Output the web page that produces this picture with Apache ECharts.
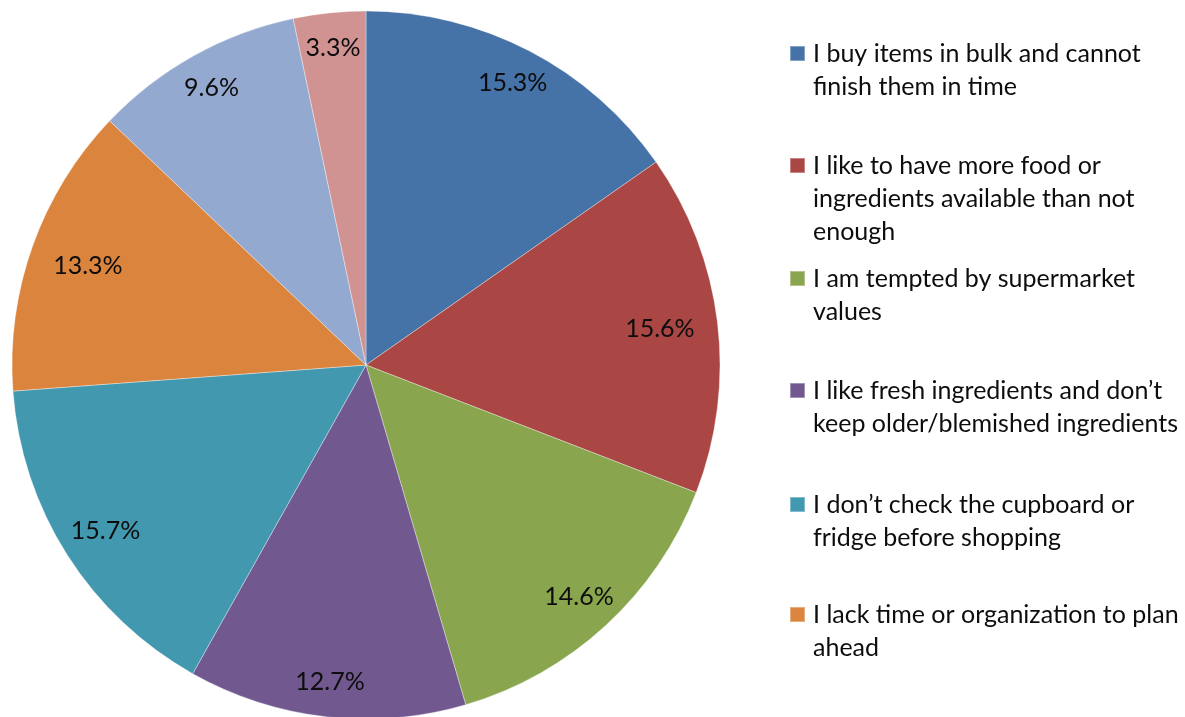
<!DOCTYPE html>
<html>
<head>
<meta charset="utf-8">
<script src="https://cdn.jsdelivr.net/npm/echarts@6/dist/echarts.min.js"></script>
<style>
  html, body { margin: 0; padding: 0; background: #fff; }
  #chart { width: 1185px; height: 717px; }
</style>
</head>
<body>
<div id="chart"></div>
<script>
// Reasons for food waste, share of responses (%)
const categories = [
  "I buy items in bulk and cannot finish them in time",
  "I like to have more food or ingredients available than not enough",
  "I am tempted by supermarket values",
  "I like fresh ingredients and don’t keep older/blemished ingredients",
  "I don’t check the cupboard or fridge before shopping",
  "I lack time or organization to plan ahead",
  "Other",
  "Not sure"
];
const shares = [15.3, 15.6, 14.6, 12.7, 15.7, 13.3, 9.6, 3.3];
const colors = ["#4572A7", "#AA4643", "#89A54E", "#71588F", "#4198AF", "#DB843D", "#93A9CF", "#D19392"];

// Legend text, wrapped line by line
const legendLines = [
  ["I buy items in bulk and cannot", "finish them in time"],
  ["I like to have more food or", "ingredients available than not", "enough"],
  ["I am tempted by supermarket", "values"],
  ["I like fresh ingredients and don’t", "keep older/blemished ingredients"],
  ["I don’t check the cupboard or", "fridge before shopping"],
  ["I lack time or organization to plan", "ahead"]
];
const legendIconTops = [46, 158, 271, 383, 497, 607];

const FONT = "Lato";
const LINE_H = 33;
const ICON = 15;
const CX = 366, CY = 365, R = 354;
const LABEL_REACH = 331; // how far from the centre a label box may extend along its slice's mid-line

const total = shares.reduce((a, b) => a + b, 0);
const midAngles = [];
shares.reduce((cum, v) => { midAngles.push(2 * Math.PI * (cum + v / 2) / total); return cum + v; }, 0);

const pieData = categories.map((name, i) => ({
  name: name,
  value: shares[i],
  itemStyle: { color: colors[i] }
}));

// One legend block per entry; leading blank lines keep the swatch level with the first text line
const legends = legendLines.map((lines, i) => {
  const n = lines.length;
  const offset = (2 * n - 1) * LINE_H / 2 - ICON / 2;
  const text = new Array(n - 1).fill("").concat(lines).join("\n");
  return {
    orient: "vertical",
    left: 789,
    top: legendIconTops[i] - offset,
    padding: 0,
    itemWidth: ICON,
    itemHeight: ICON,
    icon: "rect",
    selectedMode: false,
    data: [categories[i]],
    formatter: () => text,
    textStyle: {
      fontFamily: FONT,
      fontSize: 25,
      color: "#0d0d0d",
      lineHeight: LINE_H,
      padding: [0, 0, 0, 3]
    }
  };
});

const chart = echarts.init(document.getElementById("chart"), null, { renderer: "canvas" });
chart.setOption({
  animation: false,
  backgroundColor: "#ffffff",
  legend: legends,
  series: [
    {
      type: "pie",
      center: [CX, CY],
      radius: [0, R],
      startAngle: 90,
      clockwise: true,
      silent: true,
      itemStyle: { borderColor: "rgba(255,255,255,0.35)", borderWidth: 1 },
      label: {
        show: true,
        position: "inside",
        formatter: p => p.value.toFixed(1) + "%",
        fontFamily: FONT,
        fontSize: 25,
        color: "#0d0d0d",
        align: "center",
        verticalAlign: "middle"
      },
      labelLine: { show: false },
      // push each label outward until its box meets the reach circle
      labelLayout: params => {
        const a = midAngles[params.dataIndex];
        const s = Math.sin(a), c = Math.cos(a);
        const hw = params.labelRect.width / 2, hh = 12;
        const t = Math.min(Math.abs(s) > 1e-6 ? hw / Math.abs(s) : Infinity,
                           Math.abs(c) > 1e-6 ? hh / Math.abs(c) : Infinity);
        const d = LABEL_REACH - t;
        return { x: CX + d * s, y: CY - d * c, align: "center", verticalAlign: "middle" };
      },
      data: pieData
    }
  ]
});
</script>
</body>
</html>
